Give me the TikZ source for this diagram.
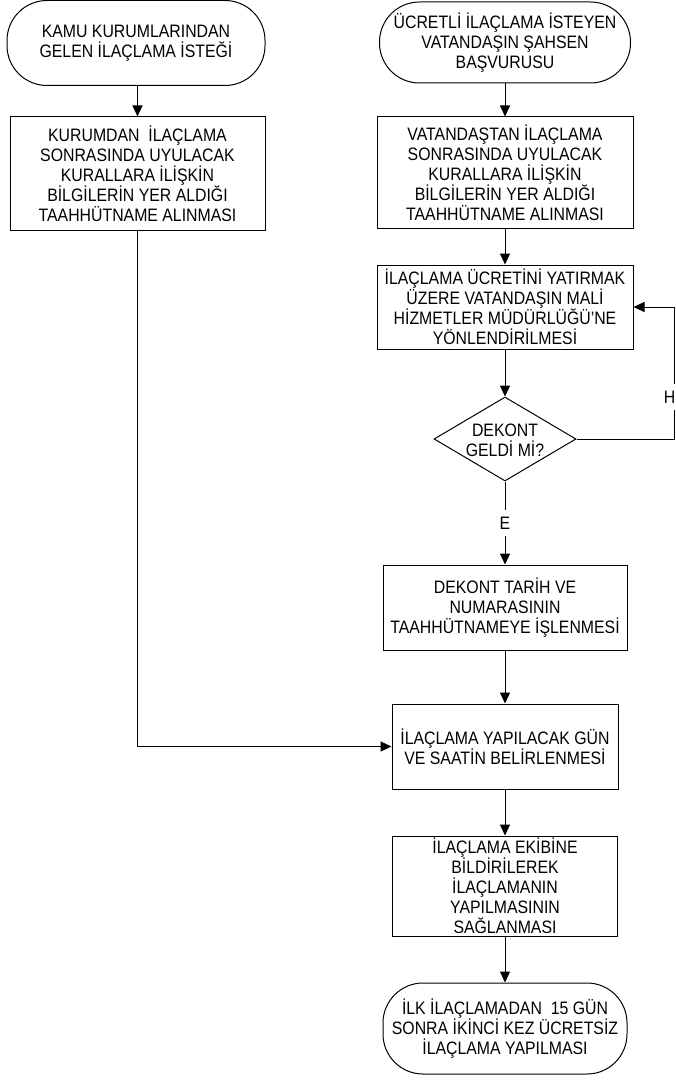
\documentclass[tikz,border=0pt]{standalone}
\usepackage{fontspec}
\setmainfont{Liberation Sans}[FakeStretch=0.88]
\usetikzlibrary{arrows.meta,shapes.geometric}
\begin{document}
\begin{tikzpicture}[x=1pt,y=-1pt,
  every node/.style={font=\fontsize{18}{20}\selectfont, align=center, inner sep=0pt},
  box/.style={draw, line width=1pt, rectangle},
  term/.style={draw, line width=1pt, rectangle, rounded corners=40pt},
  dec/.style={draw, line width=1pt, diamond},
  arr/.style={line width=1pt, -{Triangle[length=11pt,width=10pt]}},
  lbl/.style={fill=white, inner xsep=1pt, inner ysep=7pt}]
\useasboundingbox (0,0) rectangle (676,1086);

\node[term, minimum width=258pt, minimum height=85pt] (t1) at (136,43) {KAMU KURUMLARINDAN\\GELEN İLAÇLAMA İSTEĞİ};
\node[box, minimum width=255pt, minimum height=113pt] (b1) at (137.5,173.5) {KURUMDAN\ \ İLAÇLAMA\\SONRASINDA UYULACAK\\KURALLARA İLİŞKİN\\BİLGİLERİN YER ALDIĞI\\TAAHHÜTNAME ALINMASI};

\node[term, minimum width=251pt, minimum height=81pt] (t2) at (505,42.5) {ÜCRETLİ İLAÇLAMA İSTEYEN\\VATANDAŞIN ŞAHSEN\\BAŞVURUSU};
\node[box, minimum width=256pt, minimum height=111pt] (b2) at (505,172.5) {VATANDAŞTAN İLAÇLAMA\\SONRASINDA UYULACAK\\KURALLARA İLİŞKİN\\BİLGİLERİN YER ALDIĞI\\TAAHHÜTNAME ALINMASI};
\node[box, minimum width=256pt, minimum height=84pt] (b3) at (505,307) {İLAÇLAMA ÜCRETİNİ YATIRMAK\\ÜZERE VATANDAŞIN MALİ\\HİZMETLER MÜDÜRLÜĞÜ'NE\\YÖNLENDİRİLMESİ};
\node[dec, minimum width=142pt, minimum height=84pt] (d) at (505,439) {};
\node (dt) at (505,440) {DEKONT\\GELDİ Mİ?};
\node[box, minimum width=244pt, minimum height=85pt] (b4) at (505,607.5) {DEKONT TARİH VE\\NUMARASININ\\TAAHHÜTNAMEYE İŞLENMESİ};
\node[box, minimum width=226pt, minimum height=85pt] (b5) at (505,746.5) {İLAÇLAMA YAPILACAK GÜN\\VE SAATİN BELİRLENMESİ};
\node[box, minimum width=225pt, minimum height=100pt] (b6) at (505,886) {İLAÇLAMA EKİBİNE\\BİLDİRİLEREK\\İLAÇLAMANIN\\YAPILMASININ\\SAĞLANMASI};
\node[term, rounded corners=40pt, minimum width=244pt, minimum height=91pt] (t3) at (505,1028.5) {İLK İLAÇLAMADAN\ \ 15 GÜN\\SONRA İKİNCİ KEZ ÜCRETSİZ\\İLAÇLAMA YAPILMASI};

\coordinate (loopc) at (674,439);

\draw[arr] (t1.south -| b1.south) -- (b1.north);
\draw[arr] (t2.south) -- (b2.north);
\draw[arr] (b2.south) -- (b3.north);
\draw[arr] (b3.south) -- (d.north);
\draw[arr] (d.east) -- (loopc) |- (b3.east);
\node[lbl] (hl) at (669.5,397) {H};
\draw[arr] (d.south) -- (b4.north);
\node[lbl] (el) at (505,523) {E};
\draw[arr] (b4.south) -- (b5.north);
\draw[arr] (b1.south) |- (b5.west);
\draw[arr] (b5.south) -- (b6.north);
\draw[arr] (b6.south) -- (t3.north);
\end{tikzpicture}
\end{document}
